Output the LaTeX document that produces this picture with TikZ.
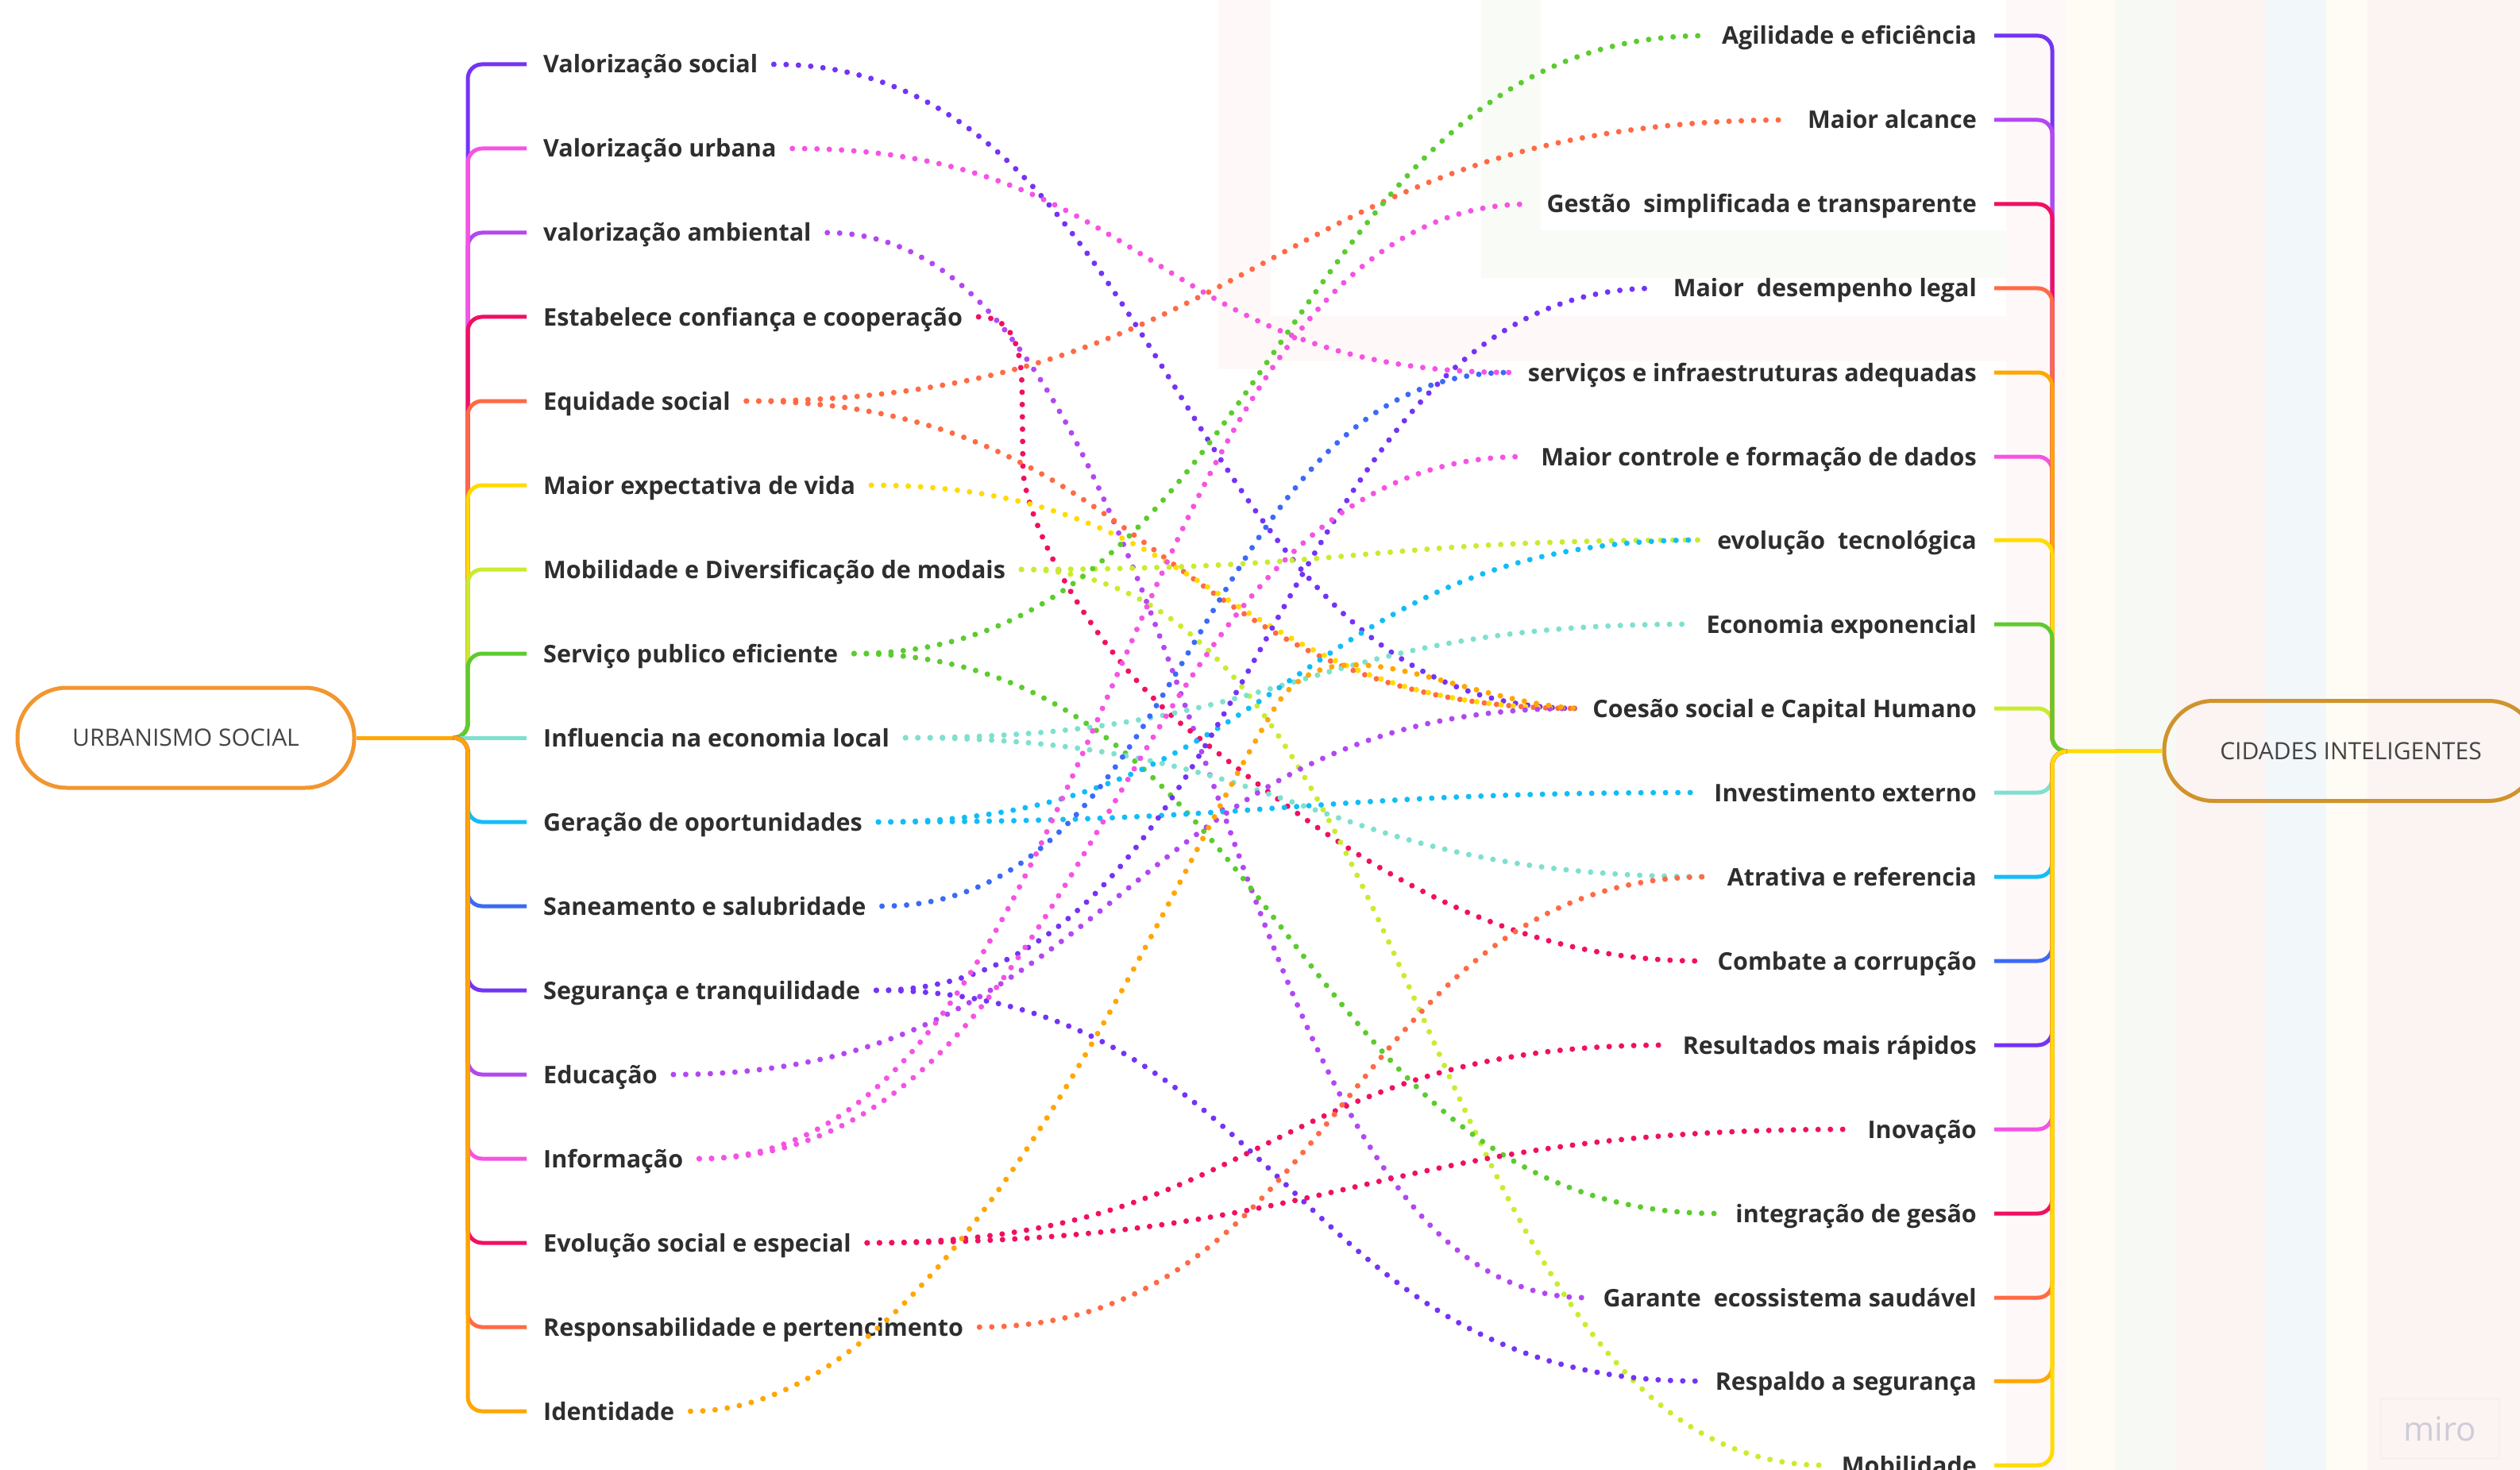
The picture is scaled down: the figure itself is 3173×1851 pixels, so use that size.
\documentclass[tikz,border=0pt]{standalone}
\usepackage{fontspec}
\setmainfont{Open Sans}
\usetikzlibrary{calc}
\definecolor{cViolet}{HTML}{7433F5}
\definecolor{cPurple}{HTML}{B347F2}
\definecolor{cPink}{HTML}{F553E3}
\definecolor{cCrimson}{HTML}{F01062}
\definecolor{cOrangeRed}{HTML}{FF6A45}
\definecolor{cAmber}{HTML}{FFA600}
\definecolor{cYellow}{HTML}{FFDB00}
\definecolor{cLime}{HTML}{C8EC2E}
\definecolor{cGreen}{HTML}{5CCB2F}
\definecolor{cTeal}{HTML}{7FE0CF}
\definecolor{cCyan}{HTML}{12BDF7}
\definecolor{cBlue}{HTML}{3B6AF5}
\definecolor{cText}{HTML}{2E2E2E}
\definecolor{cRootTxt}{HTML}{444444}
\definecolor{cRootL}{HTML}{F2962F}
\definecolor{cRootR}{HTML}{D0932C}
\definecolor{bgPink}{HTML}{FCF3F3}
\definecolor{bgCream}{HTML}{FEFCF4}
\definecolor{bgGreen}{HTML}{F7F9F4}
\definecolor{bgBlue}{HTML}{F2F7FA}
\definecolor{bgFaintPink}{HTML}{FEF8F8}
\definecolor{bgFaintGreen}{HTML}{F9FBF7}
\definecolor{cMiro}{HTML}{CFCCD8}
\definecolor{cMiroBox}{HTML}{F0ECEE}
\newcommand\lblfont{\fontsize{30.5}{36}\selectfont\bfseries}
\newcommand\rtfont{\fontsize{30}{36}\selectfont}
\newcommand\mirofont{\fontsize{42}{48}\selectfont}
\tikzset{
  lab/.style={font=\lblfont, text=cText, inner sep=0pt, text height=22pt, text depth=0pt},
  br/.style={line width=5pt, rounded corners=18pt},
  dots/.style={line width=7pt, line cap=round, dash pattern=on 0pt off 15.5pt},
  rootbox/.style={draw, line width=5pt, rounded corners=62pt, minimum height=126pt, font=\rtfont, text=cRootTxt},
}
\newcommand\conn[3]{%
  \coordinate (mid) at ($(#2)!0.5!(#3)$);
  \draw[dots,#1] (#2) .. controls (mid |- #2) and (mid |- #3) .. (#3);}
\newcommand\lbr[2]{\draw[br,#1] (JL) -- ++(18,0) |- (#2);}
\newcommand\rbr[2]{\draw[br,#1] (JR) -- ++(-18,0) |- (#2);}
\begin{document}
\begin{tikzpicture}[x=1pt,y=-1pt]
\clip (0,0) rectangle (3173,1851);
\fill[white] (0,0) rectangle (3173,1851);
% faint background shapes
\fill[bgFaintPink] (2526,0) rectangle (2600,1851);
\fill[bgCream] (2600,0) rectangle (2663,1851);
\fill[bgGreen] (2663,0) rectangle (2740,1851);
\fill[bgPink] (2740,0) rectangle (2852,1851);
\fill[bgBlue] (2852,0) rectangle (2929,1851);
\fill[bgCream] (2929,0) rectangle (2981,1851);
\fill[bgPink] (2981,0) rectangle (3173,1851);
\fill[bgFaintPink] (1534,0) rectangle (1600,465);
\fill[bgFaintPink] (1600,398) rectangle (2526,455);
\fill[bgFaintGreen] (1865,0) rectangle (1940,350);
\fill[bgFaintGreen] (1940,290) rectangle (2526,350);

% root nodes
\node[rootbox, draw=cRootL, fill=white, minimum width=424pt] (urb) at (234,929) {URBANISMO SOCIAL};
\node[rootbox, draw=cRootR, minimum width=470pt] (cid) at (2960,945.5) {CIDADES INTELIGENTES};

% left labels
\node[lab,anchor=west] (l0) at (684,81) {Valorização social};
\node[lab,anchor=west] (l1) at (684,187) {Valorização urbana};
\node[lab,anchor=west] (l2) at (684,293) {valorização ambiental};
\node[lab,anchor=west] (l3) at (684,399) {Estabelece confiança e cooperação};
\node[lab,anchor=west] (l4) at (684,505) {Equidade social};
\node[lab,anchor=west] (l5) at (684,611) {Maior expectativa de vida};
\node[lab,anchor=west] (l6) at (684,717) {Mobilidade e Diversificação de modais};
\node[lab,anchor=west] (l7) at (684,823) {Serviço publico eficiente};
\node[lab,anchor=west] (l8) at (684,929) {Influencia na economia local};
\node[lab,anchor=west] (l9) at (684,1035) {Geração de oportunidades};
\node[lab,anchor=west] (l10) at (684,1141) {Saneamento e salubridade};
\node[lab,anchor=west] (l11) at (684,1247) {Segurança e tranquilidade};
\node[lab,anchor=west] (l12) at (684,1353) {Educação};
\node[lab,anchor=west] (l13) at (684,1459) {Informação};
\node[lab,anchor=west] (l14) at (684,1565) {Evolução social e especial};
\node[lab,anchor=west] (l15) at (684,1671) {Responsabilidade e pertencimento};
\node[lab,anchor=west] (l16) at (684,1777) {Identidade};

% right labels
\node[lab,anchor=east] (r0) at (2489,45) {Agilidade e eficiência};
\node[lab,anchor=east] (r1) at (2489,151) {Maior alcance};
\node[lab,anchor=east] (r2) at (2489,257) {Gestão~~simplificada e transparente};
\node[lab,anchor=east] (r3) at (2489,363) {Maior~~desempenho legal};
\node[lab,anchor=east] (r4) at (2489,469) {serviços e infraestruturas adequadas};
\node[lab,anchor=east] (r5) at (2489,575) {Maior controle e formação de dados};
\node[lab,anchor=east] (r6) at (2489,680) {evolução~~tecnológica};
\node[lab,anchor=east] (r7) at (2489,786) {Economia exponencial};
\node[lab,anchor=east] (r8) at (2489,892) {Coesão social e Capital Humano};
\node[lab,anchor=east] (r9) at (2489,998) {Investimento externo};
\node[lab,anchor=east] (r10) at (2489,1104) {Atrativa e referencia};
\node[lab,anchor=east] (r11) at (2489,1210) {Combate a corrupção};
\node[lab,anchor=east] (r12) at (2489,1316) {Resultados mais rápidos};
\node[lab,anchor=east] (r13) at (2489,1422) {Inovação};
\node[lab,anchor=east] (r14) at (2489,1528) {integração de gesão};
\node[lab,anchor=east] (r15) at (2489,1634) {Garante~~ecossistema saudável};
\node[lab,anchor=east] (r16) at (2489,1739) {Respaldo a segurança};
\node[lab,anchor=east] (r17) at (2489,1845) {Mobilidade};

% anchor coordinates
\foreach \i in {0,...,16} {
  \coordinate (a\i) at ([xshift=20pt]l\i.east);
  \coordinate (s\i) at ([xshift=-21pt]l\i.west);
}
\foreach \j in {0,...,17} {
  \coordinate (b\j) at ([xshift=-22pt]r\j.west);
  \coordinate (t\j) at ([xshift=22pt]r\j.east);
}
\coordinate (JL) at (571,929);
\coordinate (JR) at (2602,946);

% left bracket
\draw[br,cAmber] (urb.east) -- (JL);
\lbr{cViolet}{s0}
\lbr{cPurple}{s2}
\lbr{cPink}{s1}
\lbr{cCrimson}{s3}
\lbr{cOrangeRed}{s4}
\lbr{cYellow}{s5}
\lbr{cLime}{s6}
\lbr{cGreen}{s7}
\draw[br,cTeal] ([xshift=8pt]JL) -- (s8);
\lbr{cCyan}{s9}
\lbr{cBlue}{s10}
\lbr{cViolet}{s11}
\lbr{cPurple}{s12}
\lbr{cPink}{s13}
\lbr{cCrimson}{s14}
\lbr{cOrangeRed}{s15}
\lbr{cAmber}{s16}

% right bracket
\draw[br,cYellow] (JR) -- (cid.west);
\rbr{cLime}{t8}
\rbr{cPink}{t5}
\rbr{cViolet}{t0}
\rbr{cPurple}{t1}
\rbr{cCrimson}{t2}
\rbr{cOrangeRed}{t3}
\rbr{cAmber}{t4}
\rbr{cYellow}{t6}
\rbr{cGreen}{t7}
\rbr{cTeal}{t9}
\rbr{cCyan}{t10}
\rbr{cBlue}{t11}
\rbr{cViolet}{t12}
\rbr{cPink}{t13}
\rbr{cCrimson}{t14}
\rbr{cOrangeRed}{t15}
\rbr{cAmber}{t16}
\rbr{cYellow}{t17}

% dotted connectors
\conn{cViolet}{a0}{b8}
\conn{cPink}{a1}{b4}
\conn{cPurple}{a2}{b15}
\draw[dots,cCrimson] (a3) .. controls +(45,0) and +(0,-60) .. (1287,500) -- (1288,590)
  .. controls (1290,650) and (1360,800) .. (1483,908)
  .. controls (1650,1040) and (1850,1210) .. (b11);
\conn{cOrangeRed}{a4}{b1}
\conn{cOrangeRed}{a4}{b8}
\conn{cYellow}{a5}{b8}
\conn{cLime}{a6}{b6}
\conn{cLime}{a6}{b17}
\conn{cGreen}{a7}{b0}
\conn{cGreen}{a7}{b14}
\conn{cTeal}{a8}{b7}
\conn{cTeal}{a8}{b10}
\conn{cCyan}{a9}{b6}
\conn{cCyan}{a9}{b9}
\conn{cBlue}{a10}{b4}
\conn{cViolet}{a11}{b3}
\conn{cViolet}{a11}{b16}
\conn{cPurple}{a12}{b8}
\conn{cPink}{a13}{b2}
\conn{cPink}{a13}{b5}
\conn{cCrimson}{a14}{b12}
\conn{cCrimson}{a14}{b13}
\conn{cOrangeRed}{a15}{b10}
\draw[dots,cAmber] (a16) .. controls (1200,1777) and (1450,1150) .. (1600,900)
  .. controls (1670,770) and (1820,880) .. (b8);

% watermark
\node[draw=cMiroBox, line width=1.5pt, minimum width=149pt, minimum height=75pt, inner sep=0pt, font=\mirofont, text=cMiro] (miro) at (3072,1799) {miro};
\end{tikzpicture}
\end{document}
